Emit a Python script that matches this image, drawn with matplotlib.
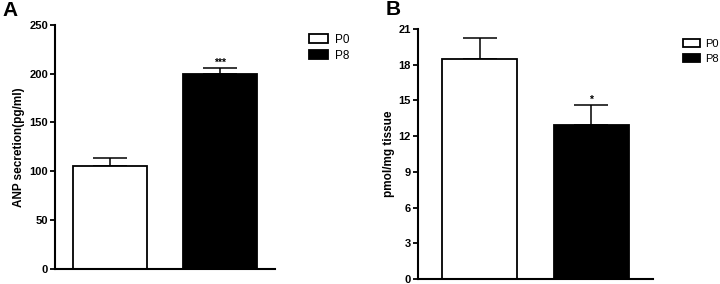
import numpy as np
import matplotlib.pyplot as plt

groups = ['P0', 'P8']
anp_mean = [105.5, 199.5]
anp_err = [8.5, 6.5]
anp_sig = ['', '***']
tissue_mean = [18.5, 12.9]
tissue_err = [1.75, 1.75]
tissue_sig = ['', '*']
colors = ['white', 'black']

plt.rcParams['font.family'] = 'Liberation Sans'

fig = plt.figure(figsize=(7.2, 2.84), dpi=100)


def draw_panel(ax, means, errs, sigs, ylabel, yticks, ylim, xlim):
    x = np.arange(len(groups))
    bars = ax.bar(x, means, width=0.675, color=colors, edgecolor='black',
                  linewidth=1.3, label=groups, zorder=2)
    ax.errorbar(x, means, yerr=[np.zeros(len(errs)), errs], fmt='none',
                ecolor='black', elinewidth=1.1, capsize=12.5, capthick=1.1,
                zorder=1)
    for xi, m, e, s in zip(x, means, errs, sigs):
        if s:
            ax.text(xi, m + e, s, ha='center', va='bottom', fontsize=7.5,
                    fontweight='bold')
    ax.set_xlim(*xlim)
    ax.set_ylim(*ylim)
    ax.set_yticks(yticks)
    ax.set_xticks([])
    for lab in ax.get_yticklabels():
        lab.set_fontweight('bold')
    ax.tick_params(axis='y', labelsize=8, width=1.3, length=3.5, pad=1.5)
    ax.spines['top'].set_visible(False)
    ax.spines['right'].set_visible(False)
    ax.spines['left'].set_linewidth(1.5)
    ax.spines['bottom'].set_linewidth(1.5)
    ax.set_ylabel(ylabel, fontsize=8.5, fontweight='bold', labelpad=3)
    return bars


ax1 = fig.add_axes([0.0764, 0.054, 0.3056, 0.858])
bars1 = draw_panel(ax1, anp_mean, anp_err, anp_sig, 'ANP secretion(pg/ml)',
                   [0, 50, 100, 150, 200, 250], (0, 250), (-0.5, 1.5))
fig.legend(bars1, groups, loc='upper left', bbox_to_anchor=(0.423, 0.898),
           frameon=False, fontsize=8.5, handlelength=1.6, handleheight=0.75,
           handletextpad=0.6, labelspacing=0.35, borderaxespad=0)

ax2 = fig.add_axes([0.5806, 0.0176, 0.3264, 0.8804])
bars2 = draw_panel(ax2, tissue_mean, tissue_err, tissue_sig, 'pmol/mg tissue',
                   [0, 3, 6, 9, 12, 15, 18, 21], (0, 21), (-0.55, 1.55))
fig.legend(bars2, groups, loc='upper left', bbox_to_anchor=(0.942, 0.878),
           frameon=False, fontsize=8, handlelength=1.6, handleheight=0.75,
           handletextpad=0.4, labelspacing=0.45, borderaxespad=0)

fig.text(0.004, 0.995, 'A', fontsize=15, fontweight='bold', va='top')
fig.text(0.535, 1.0, 'B', fontsize=15, fontweight='bold', va='top')

fig.savefig('out.png', dpi=100)
